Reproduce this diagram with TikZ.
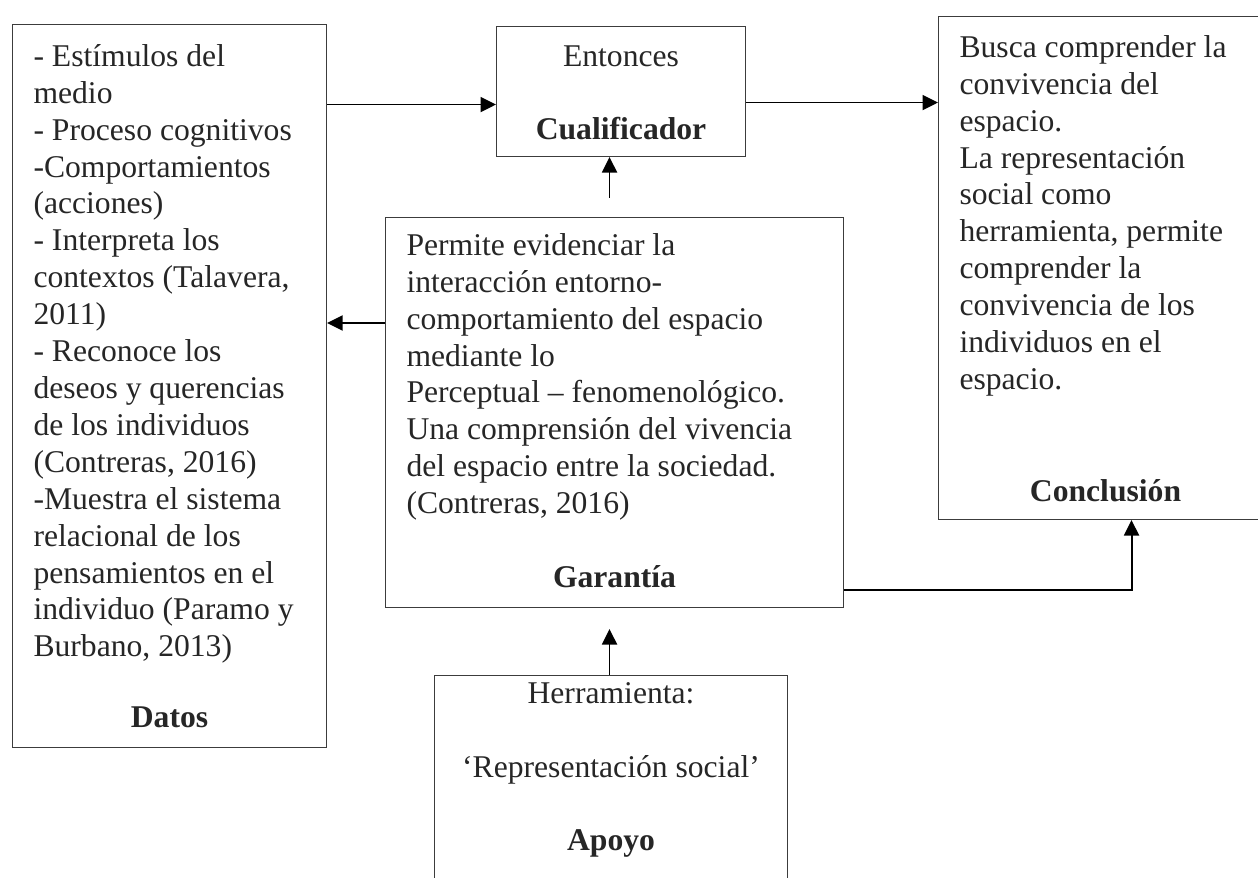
\documentclass[tikz,border=0pt]{standalone}
\usepackage{fontspec}
\setmainfont{Liberation Serif}
\usetikzlibrary{arrows.meta, positioning, calc}
\definecolor{tgray}{RGB}{38, 38, 38}
\definecolor{bgray}{RGB}{60, 60, 60}

\begin{document}
\begin{tikzpicture}[
    arrow/.style={-{Triangle[length=0.31cm, width=0.3cm]}, line width=1.1pt, draw=black},
    box/.style={rectangle, draw=bgray, line width=0.6pt, anchor=north west,
        inner xsep=0.42cm, inner ysep=0pt, text=tgray,
        font=\fontsize{18}{21}\selectfont}
]

% === Page frame ===
\useasboundingbox (0,0) rectangle (25.16,-17.56);
\clip (0,0) rectangle (25.16,-17.56);

% === Datos (left) ===
\node[box] (datos) at (0.24,-0.48) {\parbox[c][14.46cm][t]{5.44cm}{%
    \vspace*{0.32cm}\raggedright\strut
    - Estímulos del\\ medio\\ - Proceso cognitivos\\ -Comportamientos\\
    (acciones)\\ - Interpreta los\\ contextos (Talavera,\\ 2011)\\
    - Reconoce los\\ deseos y querencias\\ de los individuos\\
    (Contreras, 2016)\\ -Muestra el sistema\\ relacional de los\\
    pensamientos en el\\ individuo (Paramo y\\ Burbano, 2013)\par
    \vspace{19pt}{\centering\bfseries Datos\par}}};

% === Cualificador (top middle) ===
\node[box] (cualif) at (9.92,-0.52) {\parbox[c][2.60cm][t]{4.14cm}{%
    \vspace*{0.28cm}\centering\strut Entonces\par
    \vspace{20.5pt}\textbf{Cualificador}\par}};

% === Conclusion (right) ===
\node[box] (concl) at (18.76,-0.32) {\parbox[c][10.06cm][t]{5.84cm}{%
    \vspace*{0.30cm}\raggedright\strut
    Busca comprender la\\ convivencia del\\ espacio.\\ La representación\\
    social como\\ herramienta, permite\\ comprender la\\ convivencia de los\\
    individuos en el\\ espacio.\par
    \vspace{42.7pt}{\centering\bfseries Conclusión\par}}};

% === Garantia (center) ===
\node[box] (garantia) at (7.70,-4.34) {\parbox[c][7.80cm][t]{8.32cm}{%
    \vspace*{0.24cm}\raggedright\strut
    Permite evidenciar la\\ interacción entorno-\\ comportamiento del espacio\\
    mediante lo\\ Perceptual -- fenomenológico.\\ Una comprensión del vivencia\\
    del espacio entre la sociedad.\\ (Contreras, 2016)\par
    \vspace{21pt}{\centering\bfseries Garantía\par}}};

% === Apoyo (bottom) ===
\node[box] (apoyo) at (8.68,-13.50) {\parbox[c][4.70cm][t]{6.22cm}{%
    \vspace*{0.04cm}\centering\strut Herramienta:\par
    \vspace{21pt}‘Representación social’\par
    \vspace{21pt}\textbf{Apoyo}\par}};

% === Arrows ===
\draw[arrow] ([yshift=-0.26cm]cualif.west -| datos.east) -- ([yshift=-0.26cm]cualif.west);
\draw[arrow] ([yshift=-0.22cm]cualif.east) -- ([yshift=-0.22cm]cualif.east -| concl.west);
\draw[arrow] ([xshift=-0.1cm, yshift=0.38cm]garantia.north)
    -- ([xshift=-0.1cm]garantia.north |- cualif.south);
\draw[arrow] ([yshift=-2.12cm]garantia.north west) -- ([yshift=-2.12cm]garantia.north west -| datos.east);
\draw[arrow] ([yshift=0.36cm]garantia.south east) -| ([xshift=0.52cm]concl.south);
\draw[arrow] ([xshift=-0.03cm]apoyo.north) -- ([xshift=-0.03cm, yshift=-0.42cm]apoyo.north |- garantia.south);

\end{tikzpicture}
\end{document}
